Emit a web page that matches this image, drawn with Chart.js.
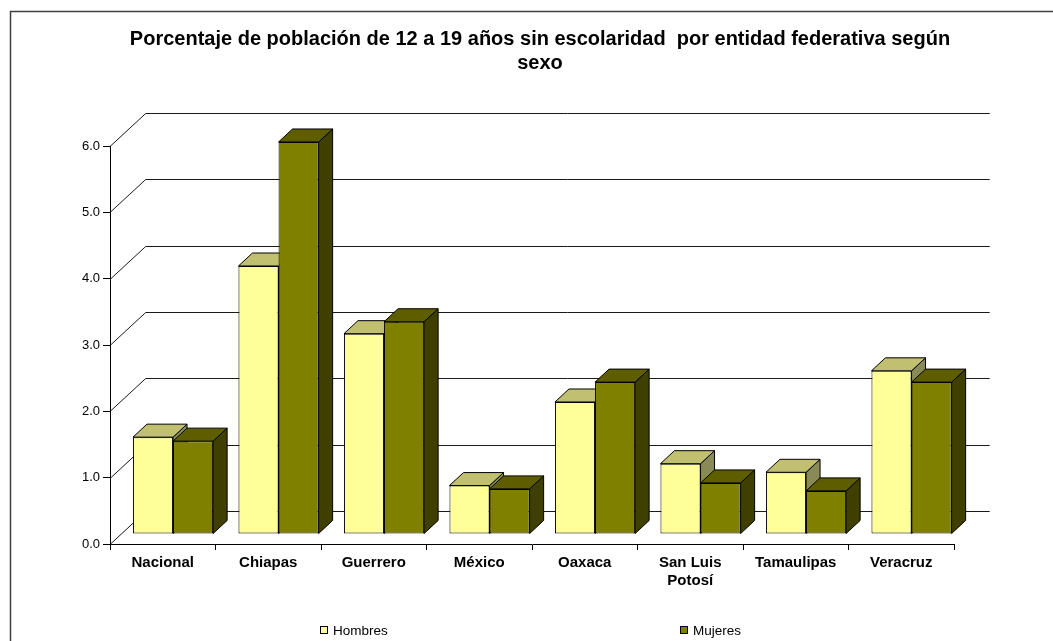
<!DOCTYPE html>
<html lang="es">
<head>
<meta charset="utf-8">
<title>Porcentaje de población de 12 a 19 años sin escolaridad</title>
<script src="https://cdn.jsdelivr.net/npm/chart.js@4.4.1/dist/chart.umd.min.js"></script>
<style>
  html, body { margin: 0; padding: 0; background: #fff; }
  #wrap { width: 1053px; height: 641px; }
</style>
</head>
<body>
<div id="wrap"><canvas id="chart" width="1053" height="641"></canvas></div>
<script>
var categorias = ['Nacional', 'Chiapas', 'Guerrero', 'México', 'Oaxaca', ['San Luis', 'Potosí'], 'Tamaulipas', 'Veracruz'];
var hombres = [1.46, 4.04, 3.02, 0.73, 1.99, 1.06, 0.93, 2.46];
var mujeres = [1.40, 5.91, 3.20, 0.68, 2.29, 0.77, 0.65, 2.29];
var yMin = 0;
var yMax = 6;
var yStep = 1;
var titulo = ['Porcentaje de población de 12 a 19 años sin escolaridad  por entidad federativa según', 'sexo'];

var COLORS = {
  H_FRONT: '#FFFF99',
  H_TOP: '#C0C070',
  H_SIDE: '#8A8A58',
  M_FRONT: '#808000',
  M_TOP: '#5E5E00',
  M_SIDE: '#3F3F00',
  LINE: '#1a1a1a',
};

// 3d look: wall depth, position of bars inside the depth, bar thickness
var WALL = { dx: 35.7, dy: 33 };
var SHIFT = { dx: 10.3, dy: 10 };
var DEPTH = { dx: 14, dy: 13 };

Chart.defaults.font.family = "'Liberation Sans', Arial, sans-serif";
Chart.defaults.color = '#000';

function drawFaces(ctx, el, ds) {
  var p = el.getProps(['x', 'y', 'base', 'width'], true);
  var l = p.x - p.width / 2;
  var r = p.x + p.width / 2;
  var top = Math.min(p.y, p.base);
  var base = Math.max(p.y, p.base);
  ctx.lineWidth = 1;
  ctx.strokeStyle = '#000';
  // side
  ctx.beginPath();
  ctx.moveTo(r, top);
  ctx.lineTo(r + DEPTH.dx, top - DEPTH.dy);
  ctx.lineTo(r + DEPTH.dx, base - DEPTH.dy);
  ctx.lineTo(r, base);
  ctx.closePath();
  ctx.fillStyle = ds.sideColor;
  ctx.fill();
  ctx.stroke();
  // top
  ctx.beginPath();
  ctx.moveTo(l, top);
  ctx.lineTo(l + DEPTH.dx, top - DEPTH.dy);
  ctx.lineTo(r + DEPTH.dx, top - DEPTH.dy);
  ctx.lineTo(r, top);
  ctx.closePath();
  ctx.fillStyle = ds.topColor;
  ctx.fill();
  ctx.stroke();
}

var walls = {
  id: 'walls',
  beforeDatasetsDraw: function (chart) {
    var ctx = chart.ctx;
    var y = chart.scales.y;
    var area = chart.chartArea;
    var xEnd = area.right + WALL.dx;
    ctx.save();
    ctx.strokeStyle = COLORS.LINE;
    ctx.lineWidth = 1;
    y.ticks.forEach(function (t) {
      var py = Math.round(y.getPixelForValue(t.value)) + 0.5;
      ctx.beginPath();
      ctx.moveTo(area.left, py);
      ctx.lineTo(area.left + WALL.dx, py - WALL.dy);
      ctx.lineTo(xEnd, py - WALL.dy);
      ctx.stroke();
    });
    // back faces of the first series go under every front face
    ctx.translate(SHIFT.dx, -SHIFT.dy);
    var ds0 = chart.data.datasets[0];
    chart.getDatasetMeta(0).data.forEach(function (el) { drawFaces(ctx, el, ds0); });
    ctx.restore();
  },
  beforeDatasetDraw: function (chart) {
    chart.ctx.save();
    chart.ctx.translate(SHIFT.dx, -SHIFT.dy);
  },
  afterDatasetDraw: function (chart, args) {
    var ctx = chart.ctx;
    if (args.index === 1) {
      var ds = chart.data.datasets[1];
      args.meta.data.forEach(function (el) { drawFaces(ctx, el, ds); });
    }
    ctx.restore();
  },
  afterDraw: function (chart) {
    var ctx = chart.ctx;
    ctx.save();
    // outer frame
    ctx.strokeStyle = '#404040';
    ctx.lineWidth = 1.5;
    ctx.beginPath();
    ctx.moveTo(10.5, chart.height + 5);
    ctx.lineTo(10.5, 11.5);
    ctx.lineTo(chart.width + 5, 11.5);
    ctx.stroke();
    // title
    ctx.fillStyle = '#000';
    ctx.textAlign = 'center';
    ctx.textBaseline = 'alphabetic';
    ctx.font = 'bold 20px ' + Chart.defaults.font.family;
    ctx.fillText(titulo[0], 540, 45);
    ctx.fillText(titulo[1], 540, 68.5);
    // legend
    var spots = [320, 680];
    ctx.font = '13.5px ' + Chart.defaults.font.family;
    ctx.textBaseline = 'middle';
    ctx.textAlign = 'left';
    ctx.lineWidth = 1;
    chart.data.datasets.forEach(function (ds, i) {
      var bx = spots[i];
      ctx.fillStyle = ds.backgroundColor;
      ctx.fillRect(bx + 0.5, 626.5, 7, 7);
      ctx.strokeStyle = '#000';
      ctx.strokeRect(bx + 0.5, 626.5, 7, 7);
      ctx.fillStyle = '#000';
      ctx.fillText(ds.label, bx + 13, 631);
    });
    ctx.restore();
  },
};

new Chart(document.getElementById('chart'), {
  type: 'bar',
  data: {
    labels: categorias,
    datasets: [
      {
        label: 'Hombres', data: hombres,
        backgroundColor: COLORS.H_FRONT, topColor: COLORS.H_TOP, sideColor: COLORS.H_SIDE,
        borderColor: '#000', borderWidth: 1, borderSkipped: false,
      },
      {
        label: 'Mujeres', data: mujeres,
        backgroundColor: COLORS.M_FRONT, topColor: COLORS.M_TOP, sideColor: COLORS.M_SIDE,
        borderColor: '#000', borderWidth: 1, borderSkipped: false,
      },
    ],
  },
  options: {
    responsive: false,
    animation: false,
    events: [],
    layout: { padding: { left: 0, right: 99, top: 146, bottom: 0 } },
    datasets: { bar: { categoryPercentage: 0.76, barPercentage: 1 } },
    plugins: {
      legend: { display: false },
      tooltip: { enabled: false },
      title: { display: false },
    },
    scales: {
      x: {
        grid: { drawOnChartArea: false, tickLength: 6, color: '#000', offset: true },
        border: { color: '#000', width: 1 },
        ticks: { font: { size: 15, weight: 'bold' }, padding: 4, maxRotation: 0, autoSkip: false },
        afterFit: function (s) { s.height = 97; },
      },
      y: {
        min: yMin,
        max: yMax,
        grid: { drawOnChartArea: false, tickLength: 7, color: '#000' },
        border: { color: '#000', width: 1 },
        ticks: {
          stepSize: yStep,
          font: { size: 13 },
          padding: 3,
          callback: function (v) { return v.toFixed(1); },
        },
        afterFit: function (s) { s.width = 110; },
      },
    },
  },
  plugins: [walls],
});
</script>
</body>
</html>
